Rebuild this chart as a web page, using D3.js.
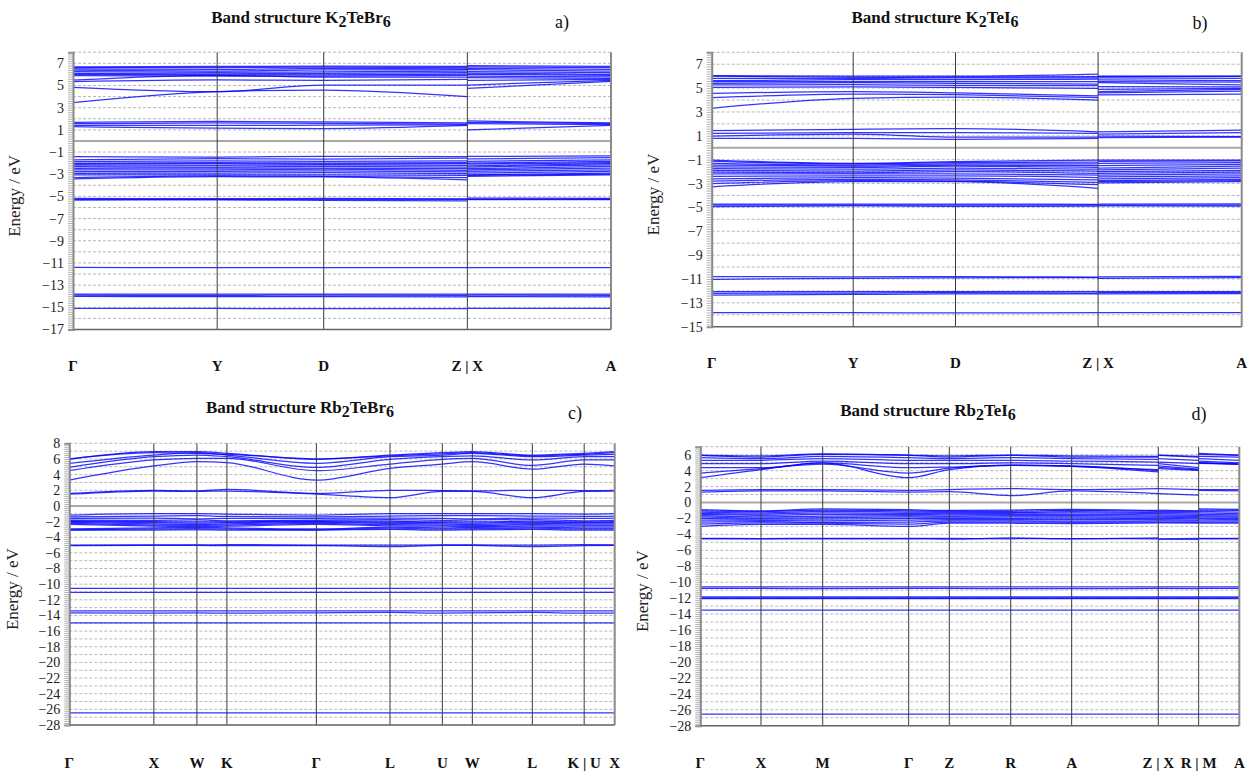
<!DOCTYPE html>
<html>
<head>
<meta charset="utf-8">
<script src="https://cdn.jsdelivr.net/npm/d3@7"></script>
<style>
  body { margin: 0; background: #fff; }
  svg { display: block; }
  text { font-family: "Liberation Serif", "Times New Roman", serif; }
</style>
</head>
<body>
<svg id="chart" width="1258" height="774"></svg>
<script>
// ---- Panel a: K2TeBr6 (samples: Γ, Y, D, Z, X, A) ----
const aLabels = ["Γ", "Y", "D", "Z | X", "A"];
const aNodes = [0, 0.268, 0.466, 0.733, 1];
const aK = [0, 0.268, 0.466, 0.733, 0.733, 1];
const aYTicks = [7, 5, 3, 1, -1, -3, -5, -7, -9, -11, -13, -15, -17];
const aBands = [
  [6.68, 6.72, 6.75, 6.72, 6.78, 6.72],
  [6.60, 6.62, 6.65, 6.62, 6.68, 6.60],
  [6.50, 6.45, 6.55, 6.50, 6.55, 6.45],
  [6.38, 6.30, 6.40, 6.42, 6.42, 6.30],
  [6.24, 6.18, 6.22, 6.30, 6.25, 6.15],
  [6.10, 6.05, 6.08, 6.15, 6.12, 6.00],
  [6.00, 5.95, 5.95, 6.02, 6.00, 5.90],
  [5.88, 5.85, 5.85, 5.90, 5.85, 5.78],
  [5.49, 5.92, 5.75, 5.75, 5.70, 5.65],
  [5.34, 5.50, 5.45, 5.55, 5.45, 5.55],
  [4.84, 4.44, 5.04, 5.04, 5.04, 5.45],
  [3.45, 4.44, 4.59, 3.99, 4.74, 5.38],
  [1.68, 1.76, 1.72, 1.62, 1.80, 1.62],
  [1.55, 1.62, 1.58, 1.52, 1.68, 1.55],
  [1.40, 1.40, 1.42, 1.45, 1.55, 1.48],
  [1.28, 1.15, 1.12, 1.40, 1.00, 1.40],
  [-1.42, -1.45, -1.40, -1.42, -1.40, -1.35],
  [-1.70, -1.60, -1.65, -1.55, -1.62, -1.50],
  [-1.87, -1.80, -1.85, -1.80, -1.85, -1.70],
  [-2.02, -1.95, -2.00, -1.95, -2.00, -1.85],
  [-2.10, -2.05, -2.10, -2.05, -2.10, -1.95],
  [-2.17, -2.20, -2.15, -2.20, -2.25, -2.05],
  [-2.32, -2.35, -2.30, -2.35, -2.35, -2.15],
  [-2.47, -2.45, -2.45, -2.50, -2.50, -2.30],
  [-2.62, -2.60, -2.55, -2.65, -2.62, -2.45],
  [-2.77, -2.75, -2.70, -2.80, -2.75, -2.60],
  [-2.92, -2.90, -2.85, -2.95, -2.90, -2.75],
  [-3.07, -3.05, -3.05, -3.10, -3.05, -2.90],
  [-3.31, -3.15, -3.20, -3.30, -3.10, -3.00],
  [-3.43, -3.22, -3.25, -3.52, -3.20, -3.05],
  [-5.18, -5.20, -5.18, -5.22, -5.15, -5.17],
  [-5.27, -5.27, -5.27, -5.27, -5.25, -5.25],
  [-5.33, -5.32, -5.35, -5.40, -5.30, -5.30],
  [-11.40, -11.43, -11.43, -11.43, -11.43, -11.43],
  [-13.80, -13.82, -13.82, -13.80, -13.82, -13.80],
  [-13.90, -13.92, -13.90, -13.92, -13.90, -13.92],
  [-14.02, -14.03, -14.03, -14.05, -14.03, -14.05],
  [-15.10, -15.10, -15.12, -15.12, -15.10, -15.10]
];

// ---- Panel b: K2TeI6 (samples: Γ, Y, D, Z, X, A) ----
const bLabels = ["Γ", "Y", "D", "Z | X", "A"];
const bNodes = [0, 0.267, 0.460, 0.729, 1];
const bK = [0, 0.267, 0.460, 0.729, 0.729, 1];
const bYTicks = [7, 5, 3, 1, -1, -3, -5, -7, -9, -11, -13, -15];
const bBands = [
  [6.05, 6.00, 6.00, 6.18, 6.00, 6.00],
  [6.01, 5.90, 5.92, 5.96, 5.96, 5.98],
  [5.82, 5.80, 5.85, 5.85, 5.85, 5.82],
  [5.62, 5.70, 5.70, 5.76, 5.68, 5.62],
  [5.54, 5.55, 5.55, 5.54, 5.55, 5.50],
  [5.40, 5.45, 5.40, 5.34, 5.46, 5.26],
  [5.26, 5.30, 5.22, 5.20, 5.12, 5.10],
  [5.07, 5.10, 5.05, 4.98, 4.90, 4.98],
  [4.56, 4.70, 4.60, 4.34, 4.70, 4.90],
  [4.20, 4.50, 4.45, 4.20, 4.60, 4.75],
  [3.31, 4.14, 4.25, 4.00, 4.43, 4.50],
  [1.43, 1.54, 1.60, 1.34, 1.34, 1.48],
  [1.21, 1.26, 1.26, 1.20, 1.15, 1.26],
  [0.98, 1.15, 0.90, 0.90, 0.98, 0.93],
  [0.79, 0.79, 0.71, 0.79, 0.85, 0.90],
  [-1.03, -1.30, -1.17, -1.03, -1.03, -1.03],
  [-1.15, -1.35, -1.25, -1.20, -1.15, -1.10],
  [-1.30, -1.45, -1.35, -1.35, -1.30, -1.25],
  [-1.45, -1.55, -1.45, -1.50, -1.50, -1.40],
  [-1.60, -1.65, -1.55, -1.65, -1.70, -1.55],
  [-1.75, -1.80, -1.70, -1.80, -1.85, -1.70],
  [-1.90, -1.95, -1.85, -1.95, -2.00, -1.90],
  [-2.05, -2.10, -2.00, -2.15, -2.15, -2.05],
  [-2.20, -2.20, -2.20, -2.30, -2.30, -2.20],
  [-2.40, -2.35, -2.35, -2.50, -2.45, -2.35],
  [-2.60, -2.50, -2.55, -2.70, -2.60, -2.50],
  [-2.80, -2.65, -2.70, -2.90, -2.75, -2.65],
  [-3.00, -2.75, -2.80, -3.10, -2.85, -2.75],
  [-3.27, -2.84, -2.85, -3.40, -2.95, -2.85],
  [-4.72, -4.72, -4.72, -4.75, -4.72, -4.70],
  [-4.80, -4.82, -4.80, -4.82, -4.80, -4.80],
  [-4.94, -4.88, -4.92, -4.90, -4.88, -4.90],
  [-10.80, -10.82, -10.80, -10.85, -10.82, -10.78],
  [-11.03, -10.95, -10.90, -10.88, -10.95, -10.88],
  [-12.07, -12.05, -12.05, -12.05, -12.05, -12.05],
  [-12.20, -12.18, -12.15, -12.18, -12.15, -12.15],
  [-12.35, -12.30, -12.25, -12.25, -12.25, -12.22],
  [-13.83, -13.83, -13.85, -13.83, -13.83, -13.82]
];

// ---- Panel c: Rb2TeBr6 (samples: Γ, X, W, K, Γ, L, U, W, L, K|U, X) ----
const cLabels = ["Γ", "X", "W", "K", "Γ", "L", "U", "W", "L", "K | U", "X"];
const cNodes = [0, 0.155, 0.234, 0.289, 0.453, 0.588, 0.684, 0.739, 0.849, 0.944, 1];
const cK = cNodes;
const cYTicks = [8, 6, 4, 2, 0, -2, -4, -6, -8, -10, -12, -14, -16, -18, -20, -22, -24, -26, -28];
const cBands = [
  [6.00, 6.80, 6.70, 6.60, 6.00, 6.40, 6.65, 6.80, 6.40, 6.60, 6.80],
  [5.95, 6.93, 6.93, 6.72, 5.95, 6.50, 6.80, 6.93, 6.50, 6.72, 6.93],
  [5.44, 6.50, 6.80, 6.50, 5.44, 6.29, 6.50, 6.72, 6.29, 6.50, 6.60],
  [4.93, 6.29, 6.50, 6.29, 4.93, 5.95, 6.29, 6.40, 5.87, 6.29, 6.29],
  [4.50, 5.87, 6.08, 6.08, 4.50, 5.35, 5.95, 6.08, 5.17, 5.87, 5.87],
  [3.30, 5.10, 5.66, 5.53, 3.30, 4.80, 5.35, 5.66, 4.70, 5.35, 5.10],
  [1.60, 2.00, 1.92, 2.10, 1.60, 2.00, 1.95, 1.92, 2.00, 1.95, 2.00],
  [1.50, 1.90, 1.85, 1.90, 1.50, 1.05, 1.85, 1.85, 1.05, 1.85, 1.90],
  [-1.17, -0.98, -1.00, -1.05, -1.17, -1.00, -1.00, -1.00, -1.00, -1.05, -0.98],
  [-1.39, -1.30, -1.25, -1.35, -1.39, -1.30, -1.25, -1.25, -1.30, -1.35, -1.30],
  [-1.60, -1.55, -1.65, -1.60, -1.60, -1.55, -1.60, -1.65, -1.55, -1.60, -1.55],
  [-1.81, -1.85, -1.80, -1.90, -1.81, -1.75, -1.85, -1.80, -1.75, -1.90, -1.85],
  [-1.90, -2.00, -2.05, -2.05, -1.90, -1.95, -2.05, -2.05, -1.95, -2.05, -2.00],
  [-2.02, -2.15, -2.20, -2.15, -2.02, -2.10, -2.15, -2.20, -2.10, -2.15, -2.15],
  [-2.10, -2.30, -2.35, -2.30, -2.10, -2.25, -2.30, -2.35, -2.25, -2.30, -2.30],
  [-2.23, -2.45, -2.50, -2.45, -2.23, -2.40, -2.45, -2.50, -2.40, -2.45, -2.45],
  [-2.35, -2.60, -2.65, -2.60, -2.35, -2.55, -2.60, -2.65, -2.55, -2.60, -2.60],
  [-2.95, -2.80, -2.75, -2.80, -2.95, -2.70, -2.80, -2.75, -2.70, -2.80, -2.80],
  [-3.05, -2.95, -2.90, -2.95, -3.05, -2.85, -2.95, -2.90, -2.85, -2.95, -2.95],
  [-3.09, -3.10, -3.05, -3.10, -3.09, -3.00, -3.10, -3.05, -3.00, -3.10, -3.10],
  [-5.00, -4.98, -4.98, -4.95, -5.00, -5.02, -4.98, -4.98, -5.02, -4.95, -4.98],
  [-5.08, -5.05, -5.05, -5.08, -5.08, -5.20, -5.05, -5.05, -5.20, -5.08, -5.05],
  [-10.54, -10.54, -10.54, -10.54, -10.54, -10.54, -10.54, -10.54, -10.54, -10.54, -10.54],
  [-11.05, -11.05, -11.05, -11.05, -11.05, -11.05, -11.05, -11.05, -11.05, -11.05, -11.05],
  [-13.40, -13.42, -13.42, -13.40, -13.40, -13.42, -13.42, -13.42, -13.42, -13.40, -13.42],
  [-13.66, -13.70, -13.68, -13.70, -13.66, -13.62, -13.70, -13.68, -13.62, -13.70, -13.70],
  [-14.94, -14.94, -14.94, -14.94, -14.94, -14.94, -14.94, -14.94, -14.94, -14.94, -14.94],
  [-26.45, -26.45, -26.45, -26.45, -26.45, -26.45, -26.45, -26.45, -26.45, -26.45, -26.45]
];

// ---- Panel d: Rb2TeI6 (samples: Γ, X, M, Γ, Z, R, A, Z, X, R, M, A) ----
const dLabels = ["Γ", "X", "M", "Γ", "Z", "R", "A", "Z | X", "R | M", "A"];
const dNodes = [0, 0.1126, 0.2271, 0.3866, 0.4620, 0.5759, 0.6890, 0.8497, 0.9246, 1];
const dK = [0, 0.1126, 0.2271, 0.3866, 0.4620, 0.5759, 0.6890, 0.8497, 0.8497, 0.9246, 0.9246, 1];
const dYTicks = [6, 4, 2, 0, -2, -4, -6, -8, -10, -12, -14, -16, -18, -20, -22, -24, -26, -28];
const dBands = [
  [5.95, 5.85, 6.10, 5.95, 5.85, 5.95, 5.85, 5.80, 5.95, 5.80, 6.15, 5.95],
  [5.91, 5.70, 6.04, 5.91, 5.70, 5.91, 5.70, 5.70, 5.91, 5.70, 6.04, 5.91],
  [5.62, 5.50, 5.79, 5.62, 5.50, 5.62, 5.50, 5.40, 5.50, 5.29, 5.79, 5.70],
  [5.29, 5.29, 5.50, 5.29, 5.29, 5.29, 5.20, 5.08, 5.08, 4.87, 5.50, 5.29],
  [4.87, 4.87, 5.20, 4.87, 4.87, 4.96, 4.87, 4.66, 4.87, 4.37, 5.20, 4.96],
  [4.37, 4.37, 4.96, 4.37, 4.45, 4.66, 4.54, 4.12, 4.60, 4.20, 5.00, 4.85],
  [3.69, 4.25, 4.80, 3.69, 4.30, 4.70, 4.60, 4.00, 4.40, 4.10, 4.90, 4.80],
  [3.12, 4.12, 4.96, 3.12, 4.12, 4.66, 4.54, 3.83, 4.25, 4.04, 4.96, 4.79],
  [1.53, 1.62, 1.62, 1.53, 1.62, 1.74, 1.62, 1.74, 1.74, 1.62, 1.62, 1.62],
  [1.31, 1.45, 1.45, 1.31, 1.35, 0.86, 1.45, 1.11, 1.11, 0.94, 1.53, 1.45],
  [-0.90, -1.05, -0.80, -0.90, -1.00, -0.95, -0.85, -1.00, -0.95, -1.05, -0.80, -0.85],
  [-1.05, -1.15, -0.95, -1.05, -1.10, -1.10, -1.00, -1.10, -1.10, -1.15, -0.95, -1.00],
  [-1.20, -1.30, -1.10, -1.20, -1.25, -1.25, -1.15, -1.25, -1.25, -1.30, -1.10, -1.20],
  [-1.35, -1.45, -1.30, -1.35, -1.40, -1.35, -1.30, -1.40, -1.40, -1.45, -1.30, -1.40],
  [-1.50, -1.60, -1.50, -1.50, -1.55, -1.50, -1.50, -1.55, -1.55, -1.60, -1.50, -1.55],
  [-1.65, -1.80, -1.70, -1.65, -1.70, -1.65, -1.65, -1.70, -1.70, -1.75, -1.65, -1.70],
  [-1.80, -1.95, -1.90, -1.80, -1.85, -1.80, -1.80, -1.85, -1.85, -1.90, -1.80, -1.85],
  [-2.00, -2.10, -2.10, -2.00, -2.00, -2.00, -1.95, -2.00, -2.00, -2.05, -1.95, -2.00],
  [-2.20, -2.25, -2.30, -2.20, -2.15, -2.15, -2.15, -2.15, -2.15, -2.20, -2.10, -2.15],
  [-2.45, -2.40, -2.50, -2.45, -2.30, -2.30, -2.35, -2.30, -2.30, -2.35, -2.30, -2.30],
  [-2.70, -2.55, -2.60, -2.70, -2.45, -2.45, -2.50, -2.45, -2.45, -2.50, -2.45, -2.45],
  [-3.00, -2.75, -2.75, -3.00, -2.60, -2.60, -2.65, -2.57, -2.57, -2.60, -2.60, -2.60],
  [-4.50, -4.52, -4.50, -4.50, -4.50, -4.55, -4.52, -4.55, -4.60, -4.62, -4.50, -4.50],
  [-4.55, -4.55, -4.55, -4.55, -4.60, -4.45, -4.55, -4.45, -4.55, -4.50, -4.55, -4.55],
  [-10.60, -10.60, -10.60, -10.60, -10.60, -10.60, -10.60, -10.60, -10.60, -10.60, -10.60, -10.60],
  [-10.78, -10.78, -10.80, -10.78, -10.78, -10.80, -10.80, -10.78, -10.78, -10.80, -10.78, -10.78],
  [-11.85, -11.85, -11.85, -11.85, -11.85, -11.85, -11.85, -11.85, -11.85, -11.85, -11.85, -11.85],
  [-11.95, -11.95, -11.95, -11.95, -11.95, -11.95, -11.95, -11.95, -11.95, -11.95, -11.95, -11.95],
  [-12.05, -12.05, -12.05, -12.05, -12.05, -12.05, -12.05, -12.05, -12.05, -12.05, -12.05, -12.05],
  [-13.50, -13.50, -13.50, -13.50, -13.50, -13.50, -13.50, -13.50, -13.50, -13.50, -13.50, -13.50],
  [-26.55, -26.55, -26.55, -26.55, -26.55, -26.55, -26.55, -26.55, -26.55, -26.55, -26.55, -26.55]
];

const svg = d3.select("#chart");
const SERIF = "'Liberation Serif', 'Times New Roman', serif";

// layout of the four panels
const panels = [
  { formula: ["K", "2", "TeBr", "6"], letter: "a)", labels: aLabels, nodes: aNodes, k: aK, bands: aBands, yTicks: aYTicks,
    yDomain: [-17, 8], left: 73, right: 611, top: 52.2, bottom: 329.5,
    titleX: 301, titleY: 22.5, letterX: 562, letterY: 28, yLabelX: 20, labelY: 371 },
  { formula: ["K", "2", "TeI", "6"], letter: "b)", labels: bLabels, nodes: bNodes, k: bK, bands: bBands, yTicks: bYTicks,
    yDomain: [-15, 8], left: 711.7, right: 1241.7, top: 52.3, bottom: 326.7,
    titleX: 935, titleY: 22.5, letterX: 1200, letterY: 29, yLabelX: 659, labelY: 368 },
  { formula: ["Rb", "2", "TeBr", "6"], letter: "c)", labels: cLabels, nodes: cNodes, k: cK, bands: cBands, yTicks: cYTicks,
    yDomain: [-28, 8], left: 69.3, right: 614.7, top: 443.3, bottom: 725,
    titleX: 300, titleY: 412.5, letterX: 575, letterY: 419, yLabelX: 18, labelY: 768 },
  { formula: ["Rb", "2", "TeI", "6"], letter: "d)", labels: dLabels, nodes: dNodes, k: dK, bands: dBands, yTicks: dYTicks,
    yDomain: [-28, 7], left: 700.3, right: 1239.3, top: 446.7, bottom: 725.7,
    titleX: 928, titleY: 416, letterX: 1199, letterY: 420, yLabelX: 648, labelY: 768 }
];

panels.forEach(drawPanel);

function drawPanel(p) {
  const x = d3.scaleLinear().domain([0, 1]).range([p.left, p.right]);
  const y = d3.scaleLinear().domain(p.yDomain).range([p.bottom, p.top]);
  const g = svg.append("g");

  // dashed grid at every integer energy
  const gridVals = d3.range(p.yDomain[0], p.yDomain[1] + 1).filter(v => v !== 0);
  g.selectAll(".grid").data(gridVals).enter().append("line")
    .attr("x1", p.left).attr("x2", p.right)
    .attr("y1", d => y(d)).attr("y2", d => y(d))
    .attr("stroke", "#b8b8b8").attr("stroke-width", 1)
    .attr("stroke-dasharray", "3,2");

  // Fermi level
  g.append("line")
    .attr("x1", p.left).attr("x2", p.right)
    .attr("y1", y(0)).attr("y2", y(0))
    .attr("stroke", "#a8a8a8").attr("stroke-width", 2);

  // bands (split where a k value repeats: path discontinuity)
  const line = d3.line().x(d => x(d[0])).y(d => y(d[1])).curve(d3.curveMonotoneX);
  p.bands.forEach(band => {
    let seg = [];
    const segs = [seg];
    band.forEach((e, i) => {
      if (i > 0 && p.k[i] === p.k[i - 1]) { seg = []; segs.push(seg); }
      seg.push([p.k[i], e]);
    });
    segs.forEach(s => {
      g.append("path").attr("d", line(s))
        .attr("fill", "none").attr("stroke", "#0000ff")
        .attr("stroke-width", 1.25).attr("stroke-opacity", 0.8);
    });
  });

  // symmetry point lines
  g.selectAll(".kline").data(p.nodes.slice(1, -1)).enter().append("line")
    .attr("x1", d => x(d)).attr("x2", d => x(d))
    .attr("y1", p.top).attr("y2", p.bottom)
    .attr("stroke", "#3a3a3a").attr("stroke-width", 1);

  // right edge and bottom
  g.append("line").attr("x1", p.right).attr("x2", p.right).attr("y1", p.top).attr("y2", p.bottom)
    .attr("stroke", "#8a8a8a").attr("stroke-width", 2);
  g.append("line").attr("x1", p.left).attr("x2", p.right).attr("y1", p.bottom).attr("y2", p.bottom)
    .attr("stroke", "#666").attr("stroke-width", 1.5);

  // left axis: minor ruler ticks
  const minorStep = (p.yDomain[1] - p.yDomain[0]) > 30 ? 0.25 : 0.2;
  const minor = d3.range(p.yDomain[0], p.yDomain[1] + 0.001, minorStep);
  const minorAxis = g.append("g").attr("transform", `translate(${p.left},0)`)
    .call(d3.axisLeft(y).tickValues(minor).tickSize(5).tickFormat(""));
  minorAxis.selectAll(".tick line").attr("stroke", "#a0a0a0").attr("stroke-width", 0.8);
  minorAxis.select(".domain").attr("stroke", "#888").attr("stroke-width", 2);

  // left axis labels
  const labAxis = g.append("g").attr("transform", `translate(${p.left},0)`)
    .call(d3.axisLeft(y).tickValues(p.yTicks).tickSize(0).tickPadding(9).tickFormat(d3.format("d")));
  labAxis.select(".domain").remove();
  labAxis.selectAll("text")
    .style("font-family", SERIF).style("font-size", "14px").attr("fill", "#222");

  // k-point labels
  g.selectAll(".klab").data(p.labels).enter().append("text")
    .attr("x", (d, i) => x(p.nodes[i]))
    .attr("y", p.labelY)
    .attr("text-anchor", "middle")
    .style("font-family", SERIF).style("font-weight", "bold").style("font-size", "15px").attr("fill", "#111")
    .text(d => d);

  // y label
  g.append("text")
    .attr("transform", `translate(${p.yLabelX},${(p.top + p.bottom) / 2 + 5}) rotate(-90)`)
    .attr("text-anchor", "middle")
    .style("font-family", SERIF).style("font-size", "17px").attr("fill", "#222")
    .text("Energy / eV");

  // title with subscripts
  const t = g.append("text")
    .attr("x", p.titleX).attr("y", p.titleY)
    .attr("text-anchor", "middle")
    .style("font-family", SERIF).style("font-weight", "bold").style("font-size", "17px").attr("fill", "#111");
  t.append("tspan").text("Band structure " + p.formula[0]);
  t.append("tspan").attr("dy", 4).style("font-size", "16px").text(p.formula[1]);
  t.append("tspan").attr("dy", -4).text(p.formula[2]);
  t.append("tspan").attr("dy", 4).style("font-size", "16px").text(p.formula[3]);

  // panel letter
  g.append("text")
    .attr("x", p.letterX).attr("y", p.letterY)
    .attr("text-anchor", "middle")
    .style("font-family", SERIF).style("font-size", "18px").attr("fill", "#111")
    .text(p.letter);
}
</script>
</body>
</html>
